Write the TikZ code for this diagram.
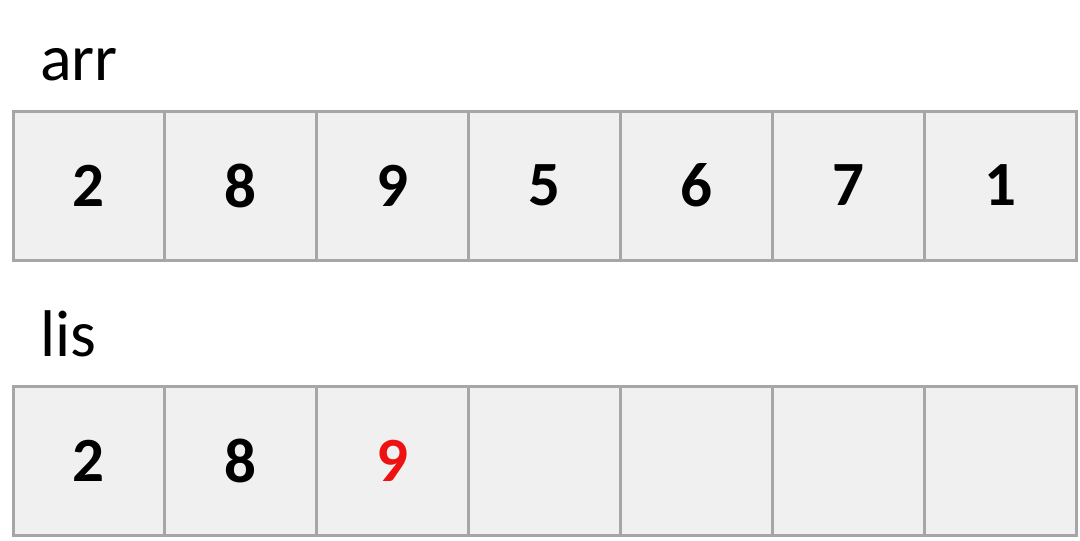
\documentclass[tikz,border=0pt]{standalone}
\usepackage{fontspec}
\setmainfont{Carlito}
\definecolor{cellfill}{HTML}{F0F0F0}
\definecolor{celldraw}{HTML}{A6A6A6}
\definecolor{hilite}{HTML}{EE1111}
\begin{document}
\begin{tikzpicture}[x=1pt,y=-1pt,
  cell/.style={draw=celldraw,fill=cellfill,line width=3pt,minimum width=151.86pt,minimum height=149pt,inner sep=0pt,outer sep=0pt,font=\fontsize{63}{70}\selectfont\bfseries},
  lbl/.style={anchor=base west,inner sep=0pt,font=\fontsize{66}{74}\selectfont}]
\useasboundingbox (0,0) rectangle (1080,541);
\node[lbl] (arrlabel) at (40,80) {arr};
\node[lbl] (lislabel) at (40,356) {lis};
\foreach \v [count=\i from 0] in {2,8,9,5,6,7,1} {
  \node[cell] (a\i) at ({13+151.86*\i+75.93},185.5) {\v};
}
\foreach \v [count=\i from 0] in {2,8,\textcolor{hilite}{9},,,,} {
  \node[cell] (l\i) at ({13+151.86*\i+75.93},460.5) {\v};
}
\end{tikzpicture}
\end{document}
